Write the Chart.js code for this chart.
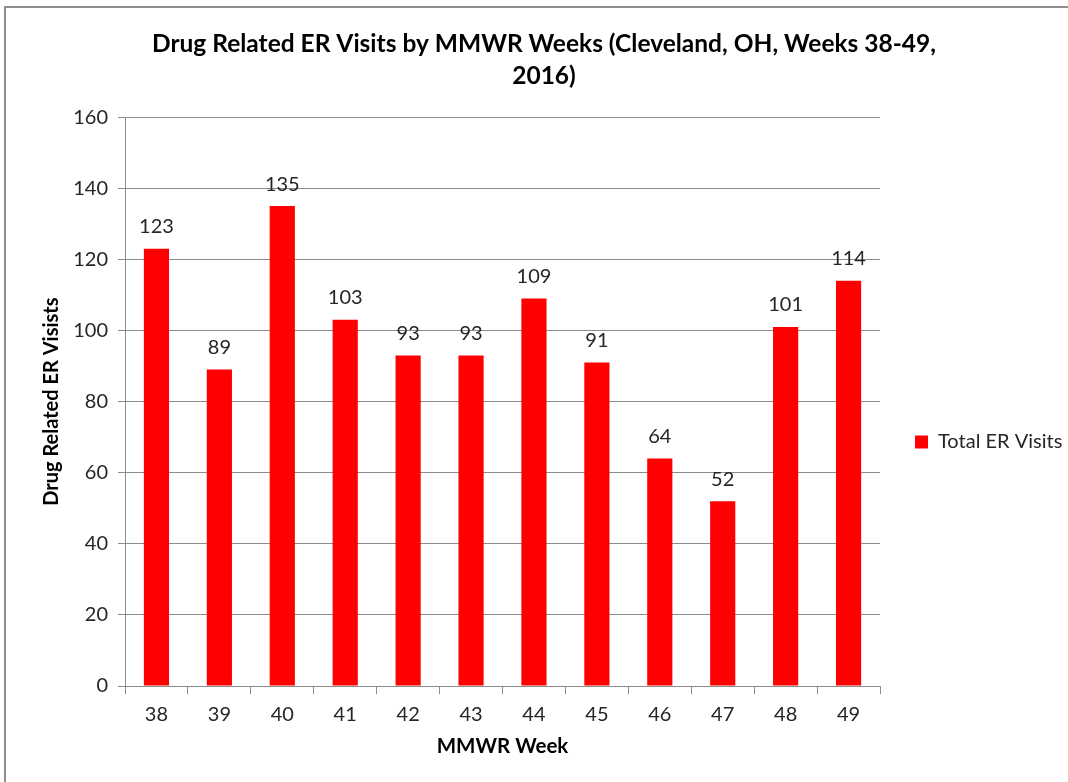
<!DOCTYPE html>
<html><head><meta charset="utf-8">
<script src="https://cdn.jsdelivr.net/npm/chart.js@4.4.1/dist/chart.umd.min.js"></script>
<style>
html,body{margin:0;padding:0;background:#fff;overflow:hidden;}
#wrap{position:absolute;left:0;top:0;width:1068px;height:782px;}
#frame{position:absolute;left:4px;top:6px;width:1100px;height:800px;border-top:2px solid #8e8e8e;border-left:2px solid #8e8e8e;}
canvas{position:absolute;left:0;top:0;}
</style></head>
<body>
<div id="wrap"><div id="frame"></div><canvas id="c" width="1068" height="782"></canvas></div>
<script>
const weeks = ['38','39','40','41','42','43','44','45','46','47','48','49'];
const totalVisits = [123, 89, 135, 103, 93, 93, 109, 91, 64, 52, 101, 114];
const seriesName = 'Total ER Visits';
const titleLines = ['Drug Related ER Visits by MMWR Weeks (Cleveland, OH, Weeks 38-49,', '2016)'];
const xTitle = 'MMWR Week';
const yTitle = 'Drug Related ER Visists';
const yMin = 0, yMax = 160, yStep = 20;

const FONT = 'Lato';
const axisColor = '#8c8c8c';
const red = '#ff0000';

// layout targets
const padLeft = 20;
const areaLeft = 125, areaRight = 880, areaBottom = 686;
const legendFontSize = 20, legendPad = 35, legendBox = 13;
const legendMaxW = 1068 - areaRight;

const valueLabels = {
  id: 'valueLabels',
  afterDatasetsDraw(chart) {
    const ctx = chart.ctx;
    const meta = chart.getDatasetMeta(0);
    ctx.save();
    ctx.font = '20px ' + FONT;
    ctx.fillStyle = '#262626';
    ctx.textAlign = 'center';
    ctx.textBaseline = 'middle';
    meta.data.forEach((bar, i) => {
      ctx.fillText(String(chart.data.datasets[0].data[i]), bar.x, bar.y - 22);
    });
    ctx.restore();
  }
};
const legendShift = {
  id: 'legendShift',
  afterLayout(chart) {
    const lg = chart.legend;
    const h = lg.bottom - lg.top;
    const target = 441 - legendPad - 9;
    lg.top = target; lg.bottom = target + h;
  }
};

new Chart(document.getElementById('c'), {
  type: 'bar',
  data: {
    labels: weeks,
    datasets: [{
      label: seriesName,
      data: totalVisits,
      backgroundColor: red,
      borderWidth: 0,
      barPercentage: 0.4,
      categoryPercentage: 1.0
    }]
  },
  options: {
    responsive: false,
    animation: false,
    devicePixelRatio: 1,
    layout: { padding: { left: padLeft, right: 0, top: 0, bottom: 0 } },
    plugins: {
      title: {
        display: true,
        text: titleLines,
        color: '#000',
        font: { family: FONT, size: 24.5, weight: 'bold', lineHeight: 1.27 },
        padding: { top: 29, bottom: 26 }
      },
      legend: {
        display: true,
        position: 'right',
        align: 'start',
        maxWidth: legendMaxW,
        labels: {
          color: '#262626',
          font: { family: FONT, size: legendFontSize },
          boxWidth: legendBox, boxHeight: legendBox,
          padding: legendPad
        }
      },
      tooltip: { enabled: false }
    },
    scales: {
      x: {
        offset: true,
        grid: { display: true, drawOnChartArea: false, drawTicks: true, tickLength: 8, color: axisColor, offset: true },
        border: { display: true, color: axisColor, width: 1 },
        ticks: { color: '#262626', font: { family: FONT, size: 20 }, padding: 9, maxRotation: 0 },
        title: { display: true, text: xTitle, color: '#000', font: { family: FONT, size: 20.5, weight: 'bold' }, padding: { top: 4, bottom: 23 } },
        afterFit(s) { s.height = 782 - areaBottom; }
      },
      y: {
        min: yMin, max: yMax,
        ticks: { stepSize: yStep, color: '#262626', font: { family: FONT, size: 20 }, padding: 10 },
        grid: { color: axisColor, tickLength: 7, lineWidth: 1 },
        border: { display: true, color: axisColor, width: 1 },
        title: { display: true, text: yTitle, color: '#000', font: { family: FONT, size: 20, weight: 'bold' }, padding: { top: 20, bottom: 0 } },
        afterFit(s) { s.width = areaLeft - padLeft; }
      }
    }
  },
  plugins: [valueLabels, legendShift]
});
</script>
</body></html>
